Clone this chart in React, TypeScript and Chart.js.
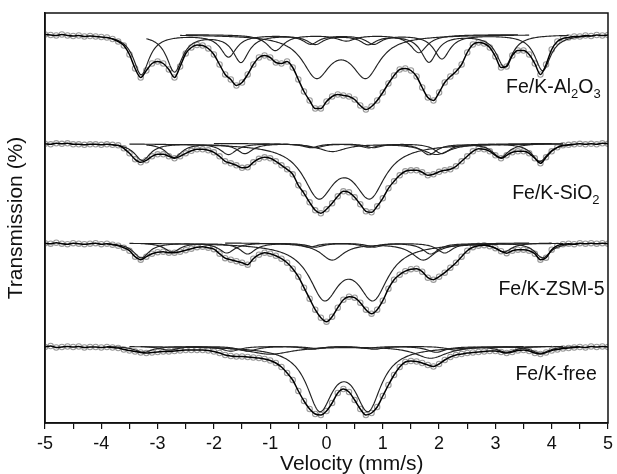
import React, { useEffect, useRef } from 'react';
import { Chart, registerables } from 'chart.js';
Chart.register(...registerables);

const FONT = '"Liberation Sans", Arial, Helvetica, sans-serif';

// Velocity grid (mm/s) of the measured points
const velocity = [-5,-4.9,-4.8,-4.7,-4.6,-4.5,-4.4,-4.3,-4.2,-4.1,-4,-3.9,-3.8,-3.7,-3.6,-3.5,-3.4,-3.3,-3.2,-3.1,-3,-2.9,-2.8,-2.7,-2.6,-2.5,-2.4,-2.3,-2.2,-2.1,-2,-1.9,-1.8,-1.7,-1.6,-1.5,-1.4,-1.3,-1.2,-1.1,-1,-0.9,-0.8,-0.7,-0.6,-0.5,-0.4,-0.3,-0.2,-0.1,0,0.1,0.2,0.3,0.4,0.5,0.6,0.7,0.8,0.9,1,1.1,1.2,1.3,1.4,1.5,1.6,1.7,1.8,1.9,2,2.1,2.2,2.3,2.4,2.5,2.6,2.7,2.8,2.9,3,3.1,3.2,3.3,3.4,3.5,3.6,3.7,3.8,3.9,4,4.1,4.2,4.3,4.4,4.5,4.6,4.7,4.8,4.9,5];

// Absorption depth below each spectrum's baseline
const depthAl2O3 = [0,0.5,1,0,1,1.5,1,2,1.5,2, 2.5,3,4.5,7,11,20,34,43,36,29, 27,29,35,43,32,19,13,10.5,11,14, 20,30,40,45,51,48,40,30,23,21, 23,28,29,27,33,45,57,66,74,74, 67,62,60,61,62,65,71,75,72,66, 58,49,41,35,34,36,42,53,63,66, 58,48,42,37,30,18,10,8,9,13, 22,33,32,21,16,16,20,29,40,30, 15,7,4,3,2,2,1,1.5,0.5,1, 0.5];
const depthSiO2 = [0.5,1,0,0.5,0,1,1,1.5,1,1, 1.5,1,1.5,2,5,10,16,19,17,13, 11,11,13,15,13,10,7.5,6,6,7, 9,13,18,20,22,24.5,24,19,15.5,14, 15,18,22,26,31,42,50,59,67,70, 66,60,53,48,49,54,61,68,69,63, 55,45,38,32,28,27,27,29,32,31, 28.5,27,26,23,18,13,8,5.5,6,8, 12,15,12,9,8,8,10,15,20,14, 8,4,2,1.5,1,0.5,1,0.5,1,0, 0.5];
const depthZSM5 = [0.5,1,0,1,1.5,0.5,1,1.5,1,0.5, 1.5,1,2,3,5,8,14,17,14,11, 9.5,9,10,10,9,7.5,6,4.5,4,5, 6.5,11,15.5,17,18.5,20,22,16,12,10, 11,13,16,20,26,34,45,56,67,75, 79,74,65,57,54,55,60,67,71,67, 58,46,37,32,28.5,26.5,26,29,35,37, 34,30,25,20,14,8,4.5,3,2.5,3.5, 5.5,8.5,10.5,8,7,7,8,11,17,15, 7,3,1.5,1,1.5,0.5,1,0.5,1,0.5, 1];
const depthFree = [1,0,1.5,1,0.5,1,0.5,1.5,1,1, 1.5,1,1.5,2,3.5,4.5,5.5,6.5,7,6.5, 6,5.5,5.5,5,4.5,4,4,4,4,4.5, 5.5,7,9,10,10.5,10.5,11,11.5,12,13, 14.5,17,21,27,34,45,55,63,68,69, 65,57,47,43,46,54,63,69,67,61, 50,39,29,21,16,15,15.5,17,19,20.5, 18,14,11,9,8,7,6.5,6,5.5,5, 5,6,7,6,4.5,4,5,7,8,6.5, 4.5,3.5,2.5,2,1.5,1,1.5,0.5,1,0.5, 1];

// Baseline level of each stacked spectrum (transmission axis units)
const baselineAl2O3 = 388.5;
const baselineSiO2 = 279.7;
const baselineZSM5 = 180.3;
const baselineFree = 77;

// Fitted sub-spectra: each line = [position mm/s, depth, half width]
type Line = [number, number, number];
type Comp = { from: number; to: number; lines: Line[] };

const al2o3SextetA: Line[] = [[-3.29,40,0.17],[-1.74,22,0.17],[-0.28,9,0.17],[0.84,9,0.17],[2.05,24,0.17],[3.84,36,0.17]];
const al2o3SextetB: Line[] = [[-2.70,37,0.17],[-1.52,27,0.17],[-0.2,9,0.17],[0.74,9,0.17],[1.82,27,0.17],[3.16,32,0.17]];
const al2o3SextetC: Line[] = [[-0.91,16,0.18],[0.35,6,0.2],[1.64,18,0.18]];
const al2o3Doublet: Line[] = [[-0.18,40,0.3],[0.70,40,0.3]];

const sio2SextetA: Line[] = [[-3.27,17,0.17],[-1.74,11,0.17],[-0.28,4,0.17],[0.84,4,0.17],[2.05,10,0.17],[3.79,18,0.17]];
const sio2SextetB: Line[] = [[-2.71,14,0.17],[-1.45,10,0.17],[-0.2,4,0.17],[0.75,4,0.17],[1.82,11,0.17],[3.09,14,0.17]];
const sio2Doublet: Line[] = [[-0.14,50,0.33],[0.77,50,0.33]];
const sio2DoubletFe2: Line[] = [[0.1,8,0.3],[1.95,11,0.3]];

const zsmSextetA: Line[] = [[-3.29,15,0.17],[-1.77,10,0.17],[-0.3,4,0.17],[0.85,4,0.17],[2.1,10,0.17],[3.84,15,0.17]];
const zsmSextetB: Line[] = [[-2.74,9,0.17],[-1.40,11,0.17],[-0.2,4,0.17],[0.75,4,0.17],[1.85,11,0.17],[3.15,9,0.17]];
const zsmDoublet: Line[] = [[-0.04,52,0.32],[0.83,52,0.32]];
const zsmDoubletFe2: Line[] = [[0.10,17,0.25],[1.72,17,0.25]];

const freeDoublet: Line[] = [[-0.12,60,0.28],[0.74,60,0.28]];
const freeSextetA: Line[] = [[-3.25,6,0.2],[-1.7,5,0.2],[-0.25,3,0.2],[0.85,3,0.2],[2.3,4,0.2],[3.8,7,0.2]];
const freeSextetB: Line[] = [[-2.8,4,0.2],[-1.4,5,0.2],[-0.2,2,0.2],[0.7,2,0.2],[1.95,6,0.2],[3.2,6,0.2]];
const freeBroad: Line[] = [[-1.0,8,0.5],[1.85,12,0.35]];

const al2o3Components: Comp[] = [
  { from: -3.9, to: 4.7, lines: al2o3SextetA },
  { from: -3.2, to: 4.3, lines: al2o3SextetB },
  { from: -2.5, to: 3.4, lines: al2o3SextetC },
  { from: -2.6, to: 3.6, lines: al2o3Doublet },
];
const sio2Components: Comp[] = [
  { from: -3.8, to: 4.4, lines: sio2SextetA },
  { from: -3.2, to: 4.2, lines: sio2SextetB },
  { from: -3.5, to: 4.2, lines: sio2Doublet },
  { from: -2.0, to: 4.0, lines: sio2DoubletFe2 },
];
const zsmComponents: Comp[] = [
  { from: -3.9, to: 4.5, lines: zsmSextetA },
  { from: -3.3, to: 4.0, lines: zsmSextetB },
  { from: -3.5, to: 4.2, lines: zsmDoublet },
  { from: -1.8, to: 3.6, lines: zsmDoubletFe2 },
];
const freeComponents: Comp[] = [
  { from: -3.5, to: 4.2, lines: freeDoublet },
  { from: -3.9, to: 4.5, lines: freeSextetA },
  { from: -3.3, to: 4.0, lines: freeSextetB },
  { from: -2.5, to: 3.5, lines: freeBroad },
];

// Sample labels (text parts, second entry = subscript)
const labelAl2O3: [string, boolean][] = [['Fe/K-Al', false], ['2', true], ['O', false], ['3', true]];
const labelSiO2: [string, boolean][] = [['Fe/K-SiO', false], ['2', true]];
const labelZSM5: [string, boolean][] = [['Fe/K-ZSM-5', false]];
const labelFree: [string, boolean][] = [['Fe/K-free', false]];

const spectra = [
  { depth: depthAl2O3, base: baselineAl2O3, comps: al2o3Components, label: labelAl2O3, lx: 4.87, ly: 329.7 },
  { depth: depthSiO2, base: baselineSiO2, comps: sio2Components, label: labelSiO2, lx: 4.85, ly: 223.7 },
  { depth: depthZSM5, base: baselineZSM5, comps: zsmComponents, label: labelZSM5, lx: 4.94, ly: 128 },
  { depth: depthFree, base: baselineFree, comps: freeComponents, label: labelFree, lx: 4.8, ly: 43 },
];

function componentCurve(c: Comp, base: number) {
  const pts: { x: number; y: number }[] = [];
  const n = Math.round((c.to - c.from) / 0.02);
  for (let i = 0; i <= n; i++) {
    const v = c.from + (i * (c.to - c.from)) / n;
    let d = 0;
    for (const [p, a, w] of c.lines) d += a / (1 + ((v - p) / w) ** 2);
    pts.push({ x: v, y: base - d });
  }
  return pts;
}

const decorPlugin = {
  id: 'decor',
  afterDraw(chart: any) {
    const { ctx, chartArea: a, scales } = chart;
    const xs = scales.x, ys = scales.y;
    ctx.save();
    ctx.strokeStyle = '#111';
    ctx.lineWidth = 1.5;
    ctx.strokeRect(a.left, a.top, a.right - a.left, a.bottom - a.top);
    ctx.fillStyle = '#111';
    ctx.textBaseline = 'alphabetic';
    ctx.textAlign = 'left';
    for (const s of spectra) {
      const parts = s.label;
      let total = 0;
      for (const [t, sub] of parts) {
        ctx.font = (sub ? '13px ' : '19.5px ') + FONT;
        total += ctx.measureText(t).width;
      }
      let x = xs.getPixelForValue(s.lx) - total;
      const y = ys.getPixelForValue(s.ly);
      for (const [t, sub] of parts) {
        ctx.font = (sub ? '13px ' : '19.5px ') + FONT;
        ctx.fillText(t, x, sub ? y + 5 : y);
        x += ctx.measureText(t).width;
      }
    }
    ctx.font = '21px ' + FONT;
    ctx.textAlign = 'center';
    ctx.fillText('Velocity (mm/s)', xs.getPixelForValue(0.45), 470);
    ctx.restore();
  },
};

export default function App() {
  const ref = useRef<HTMLCanvasElement>(null);
  useEffect(() => {
    if (!ref.current) return;
    const datasets: any[] = [];
    spectra.forEach((s) => {
      const obs = velocity.map((v, i) => ({ x: v, y: s.base - s.depth[i] }));
      datasets.push({
        data: obs, showLine: false, pointRadius: 2.7, pointBorderWidth: 1.1,
        pointBorderColor: '#9a9a9a', pointBackgroundColor: 'rgba(255,255,255,0)', order: 3,
      });
      s.comps.forEach((c) => {
        datasets.push({
          data: componentCurve(c, s.base), borderColor: '#222', borderWidth: 1.15,
          pointRadius: 0, tension: 0, order: 2,
        });
      });
      datasets.push({
        data: obs, borderColor: '#000', borderWidth: 1.5, pointRadius: 0,
        cubicInterpolationMode: 'monotone', order: 1,
      });
    });
    const chart = new Chart(ref.current, {
      type: 'line',
      data: { datasets },
      options: {
        animation: false,
        responsive: true,
        maintainAspectRatio: false,
        events: [],
        layout: { padding: { top: 13, right: 5, left: 0, bottom: 0 } },
        plugins: { legend: { display: false }, tooltip: { enabled: false } },
        scales: {
          x: {
            type: 'linear', min: -5, max: 5,
            afterFit: (sc: any) => { sc.height = 51; },
            ticks: {
              stepSize: 0.5, autoSkip: false, maxRotation: 0, padding: 4,
              color: '#111', font: { family: FONT, size: 18 },
              callback: (v: any) => (Math.abs(v - Math.round(v)) < 1e-6 ? String(Math.round(v)) : ''),
            },
            grid: { drawOnChartArea: false, drawTicks: true, tickLength: 6, color: '#111', lineWidth: 1.2 },
            border: { display: true, color: '#111', width: 1.5 },
          },
          y: {
            type: 'linear', min: 0, max: 410,
            afterFit: (sc: any) => { sc.width = 45; },
            ticks: { display: false },
            grid: { display: false },
            border: { display: true, color: '#111', width: 1.5 },
            title: {
              display: true, text: 'Transmission (%)', color: '#111',
              font: { family: FONT, size: 21 }, padding: { top: 4, bottom: 0 },
            },
          },
        },
      },
      plugins: [decorPlugin],
    });
    return () => chart.destroy();
  }, []);
  return (
    <div style={{ position: 'absolute', left: 0, top: 0, width: 617, height: 474 }}>
      <canvas ref={ref} />
    </div>
  );
}
